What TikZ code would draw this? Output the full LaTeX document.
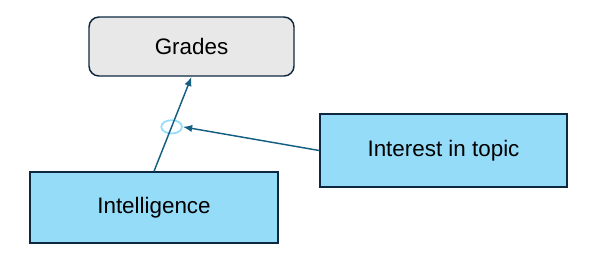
\documentclass[tikz,border=0pt]{standalone}
\usepackage{fontspec}
\setmainfont{Liberation Sans}
\usetikzlibrary{arrows.meta, positioning, shapes.geometric}
\definecolor{boxline}{HTML}{0E2841}
\definecolor{arrowcol}{HTML}{156082}
\definecolor{cyanfill}{HTML}{94DCF8}
\definecolor{greyfill}{HTML}{E8E8E8}
\begin{document}
\begin{tikzpicture}[x=0.75pt,y=-0.75pt,
		box/.style={draw=boxline, line width=1.1pt, inner sep=0pt, font=\fontsize{16.8}{20}\selectfont},
		link/.style={draw=arrowcol, line width=1.1pt, -{Latex[length=7pt,width=5.5pt]}}]
	\useasboundingbox (0,0) rectangle (591,262);
	
	\node[box, fill=greyfill, rounded corners=7.5pt, minimum width=153.75pt, minimum height=44.25pt] (grades) at (191.5,46.5) {Grades};
	\node[box, fill=cyanfill, minimum width=186pt, minimum height=53.25pt] (intel) at (154,207.5) {Intelligence};
	\node[box, fill=cyanfill, minimum width=185.25pt, minimum height=54.75pt] (interest) at (443.5,150.5) {Interest in topic};
	
	\path (intel.north) -- (grades.south)
		node[pos=0.47, ellipse, draw=cyanfill, line width=1.3pt, minimum width=15.5pt, minimum height=10pt, inner sep=0pt] (mod) {};
	\draw[link] (intel.north) -- (grades.south);
	\draw[link] (interest.west) -- (mod.east);
\end{tikzpicture}
\end{document}
